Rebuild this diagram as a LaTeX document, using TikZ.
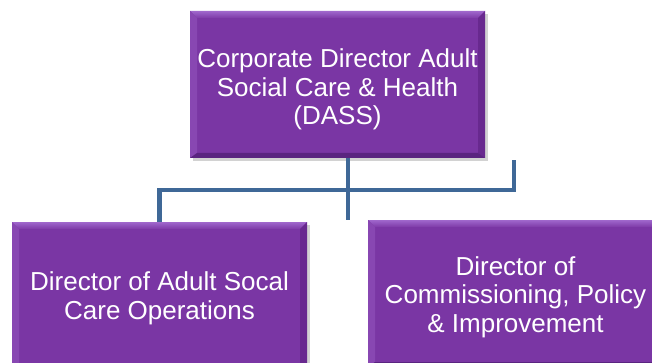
\documentclass[tikz,border=0pt]{standalone}
\usepackage{fontspec}
\setmainfont{Liberation Sans}
\usetikzlibrary{shadows}
\definecolor{boxfill}{HTML}{7A36A4}
\definecolor{bevtop}{HTML}{A067CC}
\definecolor{bevleft}{HTML}{8847B2}
\definecolor{bevright}{HTML}{68298F}
\definecolor{bevbot}{HTML}{5A2480}
\definecolor{linkcol}{HTML}{3F6897}
\tikzset{
  x=1pt, y=1pt,
  orgbox/.style={
    rectangle, draw=none, fill=boxfill, text=white,
    minimum width=295pt, minimum height=147pt, inner sep=0pt,
    align=center, font=\fontsize{26}{28.5}\selectfont,
    drop shadow={opacity=0.35, shadow xshift=3pt, shadow yshift=-3pt},
    path picture={
      \coordinate (pnw) at (path picture bounding box.north west);
      \coordinate (pne) at (path picture bounding box.north east);
      \coordinate (psw) at (path picture bounding box.south west);
      \coordinate (pse) at (path picture bounding box.south east);
      \shade[top color=bevtop, bottom color=boxfill!90!bevtop]
        (pnw) -- (pne) -- ([shift={(-7pt,-7pt)}]pne) -- ([shift={(7pt,-7pt)}]pnw) -- cycle;
      \fill[bevleft] (pnw) -- ([shift={(7pt,-7pt)}]pnw) -- ([shift={(7pt,5pt)}]psw) -- (psw) -- cycle;
      \fill[bevright] (pne) -- ([shift={(-7pt,-7pt)}]pne) -- ([shift={(-7pt,5pt)}]pse) -- (pse) -- cycle;
      \fill[bevbot] (psw) -- ([shift={(7pt,5pt)}]psw) -- ([shift={(-7pt,5pt)}]pse) -- (pse) -- cycle;
    }},
  link/.style={draw=linkcol, line width=4.5pt, line join=miter}
}
\begin{document}
\begin{tikzpicture}
\useasboundingbox (0,0) rectangle (652,-363);
\clip (0,0) rectangle (652,-363);
\fill[white] (0,0) rectangle (652,-363);
\node[orgbox] (top) at (337.5,-84.5) {\rule{0pt}{29pt}Corporate Director Adult\\Social Care \& Health\\(DASS)};
\node[orgbox] (left) at (159.5,-295.5) {\rule{0pt}{24pt}Director of Adult Socal\\Care Operations};
\node[orgbox] (right) at (515.5,-293.5) {\rule{0pt}{26pt}Director of\\Commissioning, Policy\\\& Improvement};
\coordinate (jn) at (348,-190);
\coordinate (midend) at (348,-220);
\coordinate (rend) at (514,-160);
\draw[link] (top.south -| jn) -- (midend);
\draw[link] (left.north) -- (left.north |- jn) -| (rend);
\end{tikzpicture}
\end{document}
